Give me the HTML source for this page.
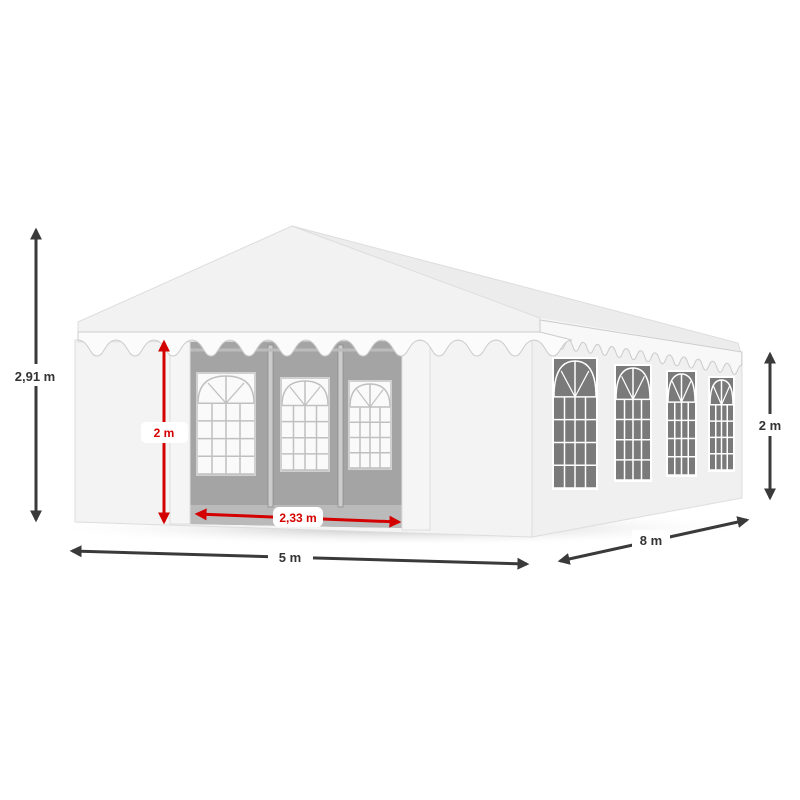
<!DOCTYPE html>
<html><head><meta charset="utf-8"><style>
html,body{margin:0;padding:0;background:#fff;width:800px;height:800px;overflow:hidden}
svg text{font-family:"Liberation Sans",sans-serif;font-weight:bold}
</style></head><body>
<svg id="s" width="800" height="800" viewBox="0 0 800 800" xmlns="http://www.w3.org/2000/svg">
<defs>
<radialGradient id="sh" cx="0.5" cy="0.5" r="0.5"><stop offset="0" stop-color="#bbb"/><stop offset="1" stop-color="#fff" stop-opacity="0"/></radialGradient>
<marker id="ad" viewBox="0 0 10 10" refX="8" refY="5" markerWidth="4" markerHeight="4" orient="auto-start-reverse"><path d="M0,0 L10,5 L0,10 z" fill="#3a3a3a"/></marker>
<marker id="ar" viewBox="0 0 10 10" refX="8" refY="5" markerWidth="4" markerHeight="4" orient="auto-start-reverse"><path d="M0,0 L10,5 L0,10 z" fill="#d40000"/></marker>
</defs>
<ellipse cx="400" cy="528" rx="360" ry="18" fill="url(#sh)"/>
<polygon points="532,322 742,352 742,498 532,537" fill="#f0f0f0" stroke="#ddd"/>
<polygon points="292,226 738,343 742,356 540,320" fill="#ececec" stroke="#ddd"/>
<polygon points="540,318 742,352 742,362 540,334" fill="#f6f6f6"/>
<polygon points="75,340 532,332 532,537 75,522" fill="#f3f3f3" stroke="#ddd"/>
<polygon points="187,340 405,340 405,528 187,524" fill="#a4a4a4"/>
<polygon points="187,505 405,505 405,528 187,524" fill="#bababa"/>
<g id="win"></g>
<rect x="170" y="342" width="20" height="182" fill="#f5f5f5" stroke="#ddd"/>
<rect x="402" y="338" width="28" height="192" fill="#f5f5f5" stroke="#ddd"/>
<polygon points="292,226 540,318 540,340 78,342 78,322" fill="#f2f2f2" stroke="#ddd"/>
<path id="scal" fill="#fbfbfb" stroke="#ccc" stroke-width="1"/>
<line x1="36" y1="230" x2="36" y2="520" stroke="#3a3a3a" stroke-width="3" marker-start="url(#ad)" marker-end="url(#ad)"/>
<rect x="8" y="364" width="55" height="22" fill="#fff"/>
<text x="35" y="381" font-size="13" text-anchor="middle" fill="#333">2,91 m</text>
<line x1="72" y1="551" x2="527" y2="564" stroke="#3a3a3a" stroke-width="3" marker-start="url(#ad)" marker-end="url(#ad)"/>
<rect x="268" y="546" width="45" height="22" fill="#fff"/>
<text x="290" y="562" font-size="13" text-anchor="middle" fill="#333">5 m</text>
<line x1="560" y1="561" x2="747" y2="520" stroke="#3a3a3a" stroke-width="3" marker-start="url(#ad)" marker-end="url(#ad)"/>
<rect x="632" y="530" width="38" height="20" fill="#fff"/>
<text x="651" y="545" font-size="13" text-anchor="middle" fill="#333">8 m</text>
<line x1="770" y1="354" x2="770" y2="498" stroke="#3a3a3a" stroke-width="3" marker-start="url(#ad)" marker-end="url(#ad)"/>
<rect x="752" y="414" width="38" height="22" fill="#fff"/>
<text x="770" y="430" font-size="13" text-anchor="middle" fill="#333">2 m</text>
<line x1="164" y1="342" x2="164" y2="522" stroke="#d40000" stroke-width="3" marker-start="url(#ar)" marker-end="url(#ar)"/>
<rect x="141" y="422" width="47" height="21" rx="5" fill="#fff"/>
<text x="164" y="437" font-size="12" text-anchor="middle" fill="#d40000">2 m</text>
<line x1="197" y1="514" x2="399" y2="522" stroke="#d40000" stroke-width="3" marker-start="url(#ar)" marker-end="url(#ar)"/>
<rect x="273" y="507" width="50" height="20" rx="6" fill="#fff"/>
<text x="298" y="522" font-size="12" text-anchor="middle" fill="#d40000">2,33 m</text>
</svg>
<script>
var NS="http://www.w3.org/2000/svg",g=document.getElementById("win");
function el(t,a){var e=document.createElementNS(NS,t);for(var k in a)e.setAttribute(k,a[k]);g.appendChild(e);return e;}
function win(x,y,w,h,bg,ln,pane){
 el("rect",{x:x,y:y,width:w,height:h,fill:bg});
 var ah=h*0.3,cx=x+w/2;
 el("rect",{x:x+2,y:y+2,width:w-4,height:h-4,fill:pane});
 el("path",{d:"M"+(x+2)+","+(y+ah)+" Q"+(x+2)+","+(y+4)+" "+cx+","+(y+4)+" Q"+(x+w-2)+","+(y+4)+" "+(x+w-2)+","+(y+ah),fill:"none",stroke:ln,"stroke-width":1.5});
 el("line",{x1:cx,y1:y+4,x2:cx,y2:y+ah,stroke:ln,"stroke-width":1.5});
 el("line",{x1:cx,y1:y+ah,x2:x+w*0.2,y2:y+ah*0.35,stroke:ln,"stroke-width":1.2});
 el("line",{x1:cx,y1:y+ah,x2:x+w*0.8,y2:y+ah*0.35,stroke:ln,"stroke-width":1.2});
 for(var i=0;i<5;i++){var yy=y+ah+(h-ah-2)*i/4;el("line",{x1:x+2,y1:yy,x2:x+w-2,y2:yy,stroke:ln,"stroke-width":1.5});}
 for(var j=1;j<4;j++){var xx=x+2+(w-4)*j/4;el("line",{x1:xx,y1:y+ah,x2:xx,y2:y+h-2,stroke:ln,"stroke-width":1.5});}
}
win(196,372,60,104,"#d0d0d0","#c0c0c0","#fafafa");
win(280,377,50,95,"#d0d0d0","#c0c0c0","#fafafa");
win(348,380,44,90,"#d0d0d0","#c0c0c0","#fafafa");
[268,338].forEach(function(px){el("rect",{x:px,y:345,width:5,height:162,fill:"#ccc",stroke:"#888","stroke-width":0.7});});
el("line",{x1:190,y1:350,x2:405,y2:350,stroke:"#bbb","stroke-width":3});
win(552,357,46,133,"#fff","#fff","#7a7a7a");
win(614,364,38,118,"#fff","#fff","#7a7a7a");
win(666,370,31,107,"#fff","#fff","#7a7a7a");
win(708,376,27,96,"#fff","#fff","#7a7a7a");
// front scallops: smooth wave
var d="M78,340";var per=38;
for(var x=78;x<540;x+=per){d+=" C"+(x+per*0.3)+",341 "+(x+per*0.3)+",356 "+(x+per*0.5)+",356 C"+(x+per*0.7)+",356 "+(x+per*0.7)+",341 "+(x+per)+",340";}
d+=" L540,332 L78,332 Z";document.getElementById("scal").setAttribute("d",d);
var sd="M540,336";for(var k=0;k<14;k++){var x0=540+k*14.4,y0=336+k*2.1;sd+=" C"+(x0+4)+","+(y0+1)+" "+(x0+4)+","+(y0+11)+" "+(x0+7.2)+","+(y0+11)+" C"+(x0+10.5)+","+(y0+11)+" "+(x0+10.5)+","+(y0+2)+" "+(x0+14.4)+","+(y0+2.1);}
var p=document.createElementNS(NS,"path");p.setAttribute("d",sd+" L742,352 L540,320 Z");p.setAttribute("fill","#f8f8f8");p.setAttribute("stroke","#ccc");
document.getElementById("s").insertBefore(p,document.getElementById("scal"));
</script>
</body></html>
